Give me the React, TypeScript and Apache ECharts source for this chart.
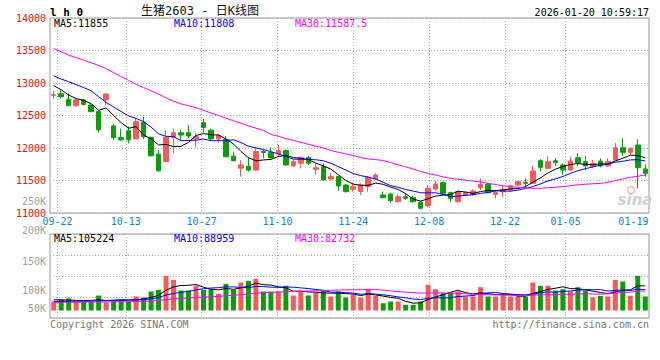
import React, { useEffect, useRef } from "react";
import * as echarts from "echarts";

// ---------- data ----------
const dates = [
  "09-19", "09-22", "09-23", "09-24", "09-25", "09-26", "09-29", "09-30", "10-09", "10-10",
  "10-13", "10-14", "10-15", "10-16", "10-17", "10-20", "10-21", "10-22", "10-23", "10-24",
  "10-27", "10-28", "10-29", "10-30", "10-31", "11-03", "11-04", "11-05", "11-06", "11-07",
  "11-10", "11-11", "11-12", "11-13", "11-14", "11-17", "11-18", "11-19", "11-20", "11-21",
  "11-24", "11-25", "11-26", "11-27", "11-28", "12-01", "12-02", "12-03", "12-04", "12-05",
  "12-08", "12-09", "12-10", "12-11", "12-12", "12-15", "12-16", "12-17", "12-18", "12-19",
  "12-22", "12-23", "12-24", "12-25", "12-26", "12-29", "12-30", "12-31", "01-05", "01-06",
  "01-07", "01-08", "01-09", "01-12", "01-13", "01-14", "01-15", "01-16", "01-19", "01-20",
];

const opens = [
  12810, 12835, 12750, 12650, 12740, 12660, 12560, 12740, 12340, 12160,
  12265, 12140, 12395, 12165, 11905, 11790, 12160, 12235, 12235, 12140,
  12390, 12275, 12140, 12135, 11875, 11690, 11720, 11660, 11945, 11930,
  11908, 11960, 11725, 11765, 11855, 11672, 11713, 11523, 11560, 11430,
  11365, 11330, 11405, 11523, 11277, 11292, 11175, 11251, 11240, 11165,
  11113, 11370, 11467, 11313, 11174, 11277, 11287, 11390, 11441, 11287,
  11328, 11354, 11431, 11472, 11456, 11805, 11687, 11805, 11738, 11661,
  11851, 11790, 11713, 11800, 11723, 11815, 12005, 11933, 12046, 11677,
];
const closes = [
  12820, 12790, 12650, 12740, 12670, 12560, 12280, 12830, 12160, 12125,
  12125, 12405, 12175, 11880, 11650, 12165, 12235, 12200, 12185, 12175,
  12315, 12140, 12190, 11865, 11805, 11740, 11660, 11945, 11930, 11850,
  11960, 11740, 11790, 11855, 11765, 11697, 11508, 11559, 11415, 11330,
  11405, 11430, 11550, 11585, 11236, 11190, 11250, 11226, 11175, 11072,
  11380, 11446, 11302, 11226, 11328, 11313, 11338, 11441, 11313, 11313,
  11364, 11415, 11482, 11456, 11646, 11702, 11790, 11780, 11661, 11800,
  11774, 11723, 11764, 11723, 11790, 12005, 11933, 11995, 11697, 11610,
];
const lows = [
  12755, 12760, 12645, 12635, 12655, 12550, 12235, 12660, 12125, 12110,
  12070, 12135, 12140, 11865, 11635, 11790, 11920, 12125, 12150, 12010,
  12236, 12125, 12087, 11856, 11790, 11559, 11636, 11660, 11841, 11840,
  11866, 11723, 11713, 11687, 11738, 11585, 11497, 11508, 11343, 11313,
  11328, 11277, 11328, 11508, 11226, 11159, 11159, 11200, 11159, 11056,
  11087, 11343, 11292, 11174, 11159, 11251, 11262, 11354, 11302, 11226,
  11251, 11328, 11415, 11380, 11446, 11636, 11672, 11723, 11585, 11661,
  11723, 11661, 11687, 11702, 11713, 11805, 11882, 11892, 11380, 11559,
];
const highs = [
  12880, 12910, 12840, 12770, 12755, 12675, 12575, 12840, 12370, 12300,
  12330, 12455, 12480, 12170, 11970, 12277, 12300, 12277, 12354, 12225,
  12445, 12300, 12215, 12185, 11943, 11815, 11866, 11995, 11969, 12010,
  12046, 11979, 11825, 11866, 11877, 11764, 11764, 11610, 11570, 11446,
  11467, 11456, 11570, 11610, 11328, 11313, 11287, 11303, 11262, 11190,
  11431, 11492, 11482, 11328, 11343, 11328, 11364, 11533, 11456, 11354,
  11415, 11431, 11497, 11533, 11723, 11826, 11877, 11841, 11764, 11866,
  11918, 11877, 11815, 11841, 11841, 12082, 12149, 12010, 12133, 11748,
];

const priceMA5Early = [12960, 12895, 12815, 12760];
const priceMA10Early = [13110, 13060, 13020, 12975, 12930, 12880, 12790, 12700, 12630];
const priceMA30Early = [
  13530, 13480, 13430, 13390, 13350, 13310, 13270, 13220, 13160, 13100,
  13040, 12980, 12930, 12880, 12830, 12770, 12720, 12680, 12650, 12620,
  12580, 12540, 12500, 12460, 12420, 12380, 12340, 12305, 12272,
];

const volumes = [
  38500, 47000, 51300, 38500, 38500, 38500, 64100, 34200, 45700, 45700,
  38500, 59900, 55600, 81200, 88500, 148300, 131200, 85500, 85500, 105600,
  88500, 91100, 71400, 114100, 88500, 119700, 127000, 135500, 81200, 81200,
  81200, 105600, 64100, 81200, 64100, 77000, 88500, 59900, 81200, 55600,
  67100, 55600, 91100, 62800, 31200, 38500, 38500, 24400, 24400, 38500,
  109900, 91100, 74000, 77000, 81200, 59900, 59900, 99600, 59900, 59900,
  67100, 59900, 59900, 59900, 119700, 105600, 105600, 85500, 91100, 81200,
  99600, 85500, 55600, 62800, 59900, 131200, 124000, 62800, 148300, 59900,
];
const volMA5Early = [46000, 45500, 44500, 43500];
const volMA10Early = [38500, 38800, 39200, 39500, 40000, 40500, 41500, 42000, 43000];
const volMA30Early = [
  34300, 34800, 35400, 35500, 35600, 35800, 36800, 36800, 37100, 37500,
  37700, 38500, 39200, 40800, 42600, 46400, 49700, 51400, 53100, 55500,
  57300, 59200, 60400, 63100, 64900, 67700, 70800, 74200, 75800,
];

const priceTicks = { min: 11000, max: 14000, step: 500 };
const labelIdx = [1, 10, 20, 30, 40, 50, 60, 68, 78];
const volTickLabels = ["250K", "200K", "150K", "100K", "50K"];
const volTickY = [201.7, 230.7, 261, 290, 308.3];

const title = "生猪2603 - 日K线图";
const symbolTag = "l h 0";
const stamp = "2026-01-20 10:59:17";
const priceLegend = ["MA5:11855", "MA10:11808", "MA30:11587.5"];
const volLegend = ["MA5:105224", "MA10:88959", "MA30:82732"];
const footLeft = "Copyright 2026 SINA.COM";
const footRight = "http://finance.sina.com.cn";

// ---------- helpers ----------
function movingAvg(vals: number[], n: number, early: number[]) {
  return vals.map((_, i) => {
    if (i < n - 1) return early[i];
    let s = 0;
    for (let k = i - n + 1; k <= i; k++) s += vals[k];
    return Math.round((s / n) * 10) / 10;
  });
}

const RED = "#f55a5a";
const GREEN = "#0c9c0c";
const MONO = '"DejaVu Sans Mono", monospace';
const BLUE_LBL = "#0b84d9";
const GRIDC = "#999";
const dotted = { color: "#aaa", type: [1, 2] as any, width: 1 };

export default function App() {
  const ref = useRef<HTMLDivElement>(null);
  useEffect(() => {
    document.body.style.margin = "0";
    if (!ref.current) return;
    const chart = echarts.init(ref.current, null, { renderer: "svg" });

    const kData = opens.map((o, i) => [o, closes[i], lows[i], highs[i]]);
    const volData = volumes.map((v, i) => ({
      value: v,
      itemStyle: { color: closes[i] >= opens[i] ? RED : GREEN },
    }));

    const pMA5 = movingAvg(closes, 5, priceMA5Early);
    const pMA10 = movingAvg(closes, 10, priceMA10Early);
    const pMA30 = movingAvg(closes, 30, priceMA30Early);
    const vMA5 = movingAvg(volumes, 5, volMA5Early);
    const vMA10 = movingAvg(volumes, 10, volMA10Early);
    const vMA30 = movingAvg(volumes, 30, volMA30Early);

    const showIdx = (i: number) => labelIdx.includes(i);
    const gridLineIdx = (i: number) => labelIdx.includes(i) && i !== 78;

    const lineSeries = (data: number[], color: string, xi: number, yi: number) => ({
      type: "line",
      data,
      xAxisIndex: xi,
      yAxisIndex: yi,
      symbol: "none",
      lineStyle: { color, width: 1 },
      silent: true,
      z: 3,
    });

    const txt = (text: string, x: number, y: number, fill: string, font: string, align = "left") => ({
      type: "text",
      x,
      y,
      silent: true,
      z: 10,
      style: { text, fill, font, textAlign: align, textVerticalAlign: "middle" },
    });

    const legendColors = ["#000000", "#0000ff", "#ff00ff"];
    const legendX = [54, 174, 295];
    const graphics: any[] = [
      txt(symbolTag, 50, 12, "#000", `bold 11px ${MONO}`),
      txt(title, 200, 11, "#111", '12px "DejaVu Sans Mono", "Noto Sans CJK SC"', "center"),
      txt(stamp, 649, 12, "#000", `10px ${MONO}`, "right"),
      ...priceLegend.map((t, i) => txt(t, legendX[i], 23.5, legendColors[i], `10px ${MONO}`)),
      ...volLegend.map((t, i) => txt(t, legendX[i], 238.5, legendColors[i], `10px ${MONO}`)),
      ...volTickLabels.map((t, i) => txt(t, 46, volTickY[i], "#a0a0a0", `10px ${MONO}`, "right")),
      txt(footLeft, 50, 324, "#777", `10px ${MONO}`),
      txt(footRight, 649, 324, "#777", `10px ${MONO}`, "right"),
      {
        type: "text",
        x: 635,
        y: 200,
        silent: true,
        z: 0,
        style: {
          text: "sina",
          fill: "#d0d0d0",
          font: 'italic bold 15px "DejaVu Sans"',
          textAlign: "center",
          textVerticalAlign: "middle",
        },
      },
      {
        type: "circle",
        silent: true,
        z: 0,
        shape: { cx: 631, cy: 190, r: 3.5 },
        style: { fill: "none", stroke: "#f4b4b4", lineWidth: 1.5 },
      },
    ];

    const catHidden = (gi: number) => ({
      type: "category",
      gridIndex: gi,
      data: dates,
      boundaryGap: true,
      show: false,
    });

    chart.setOption({
      animation: false,
      backgroundColor: "#ffffff",
      grid: [
        { left: 50, right: 11, top: 18, height: 195, show: true, borderColor: GRIDC, borderWidth: 1, backgroundColor: "transparent" },
        { left: 50, right: 11, top: 234, height: 84, show: true, borderColor: GRIDC, borderWidth: 1, backgroundColor: "transparent" },
      ],
      xAxis: [
        catHidden(0),
        {
          type: "category",
          gridIndex: 0,
          data: dates,
          boundaryGap: false,
          position: "bottom",
          axisLine: { show: false },
          axisTick: { show: false },
          axisLabel: {
            interval: showIdx,
            color: BLUE_LBL,
            fontSize: 10,
            fontFamily: MONO,
            margin: 3,
            formatter: (v: string, i: number) => (i === 78 ? `{e|${v}}` : v),
            rich: { e: { color: BLUE_LBL, fontSize: 10, fontFamily: MONO, padding: [0, 16, 0, 0] } },
          },
          splitLine: { show: true, interval: gridLineIdx, lineStyle: dotted },
        },
        catHidden(1),
        {
          type: "category",
          gridIndex: 1,
          data: dates,
          boundaryGap: false,
          axisLine: { show: false },
          axisTick: { show: false },
          axisLabel: { show: false },
          splitLine: { show: true, interval: gridLineIdx, lineStyle: dotted },
        },
      ],
      yAxis: [
        {
          type: "value",
          gridIndex: 0,
          min: priceTicks.min,
          max: priceTicks.max,
          interval: priceTicks.step,
          axisLine: { show: false },
          axisTick: { show: false },
          axisLabel: {
            color: "#f01010",
            fontSize: 10,
            fontFamily: MONO,
            margin: 4,
            formatter: (v: number) => String(v),
          },
          splitLine: { show: true, lineStyle: dotted },
        },
        {
          type: "value",
          gridIndex: 1,
          min: -32000,
          max: 327000,
          show: false,
          splitLine: { show: false },
        },
        {
          type: "value",
          gridIndex: 1,
          min: 0,
          max: 4,
          interval: 1,
          axisLine: { show: false },
          axisTick: { show: false },
          axisLabel: { show: false },
          splitLine: { show: true, lineStyle: dotted },
        },
      ],
      series: [
        {
          type: "candlestick",
          xAxisIndex: 0,
          yAxisIndex: 0,
          data: kData,
          barWidth: 5,
          silent: true,
          z: 2,
          itemStyle: {
            color: RED,
            color0: GREEN,
            borderColor: RED,
            borderColor0: GREEN,
            borderColorDoji: RED,
            borderWidth: 1,
          },
        },
        lineSeries(pMA5, "#000000", 0, 0),
        lineSeries(pMA10, "#0000ff", 0, 0),
        lineSeries(pMA30, "#ff00ff", 0, 0),
        {
          type: "bar",
          xAxisIndex: 2,
          yAxisIndex: 1,
          data: volData,
          barWidth: 5,
          silent: true,
          z: 2,
        },
        lineSeries(vMA5, "#000000", 2, 1),
        lineSeries(vMA10, "#0000ff", 2, 1),
        lineSeries(vMA30, "#ff00ff", 2, 1),
      ],
      graphic: graphics,
    });

    return () => chart.dispose();
  }, []);

  return <div ref={ref} style={{ width: 660, height: 360 }} />;
}
